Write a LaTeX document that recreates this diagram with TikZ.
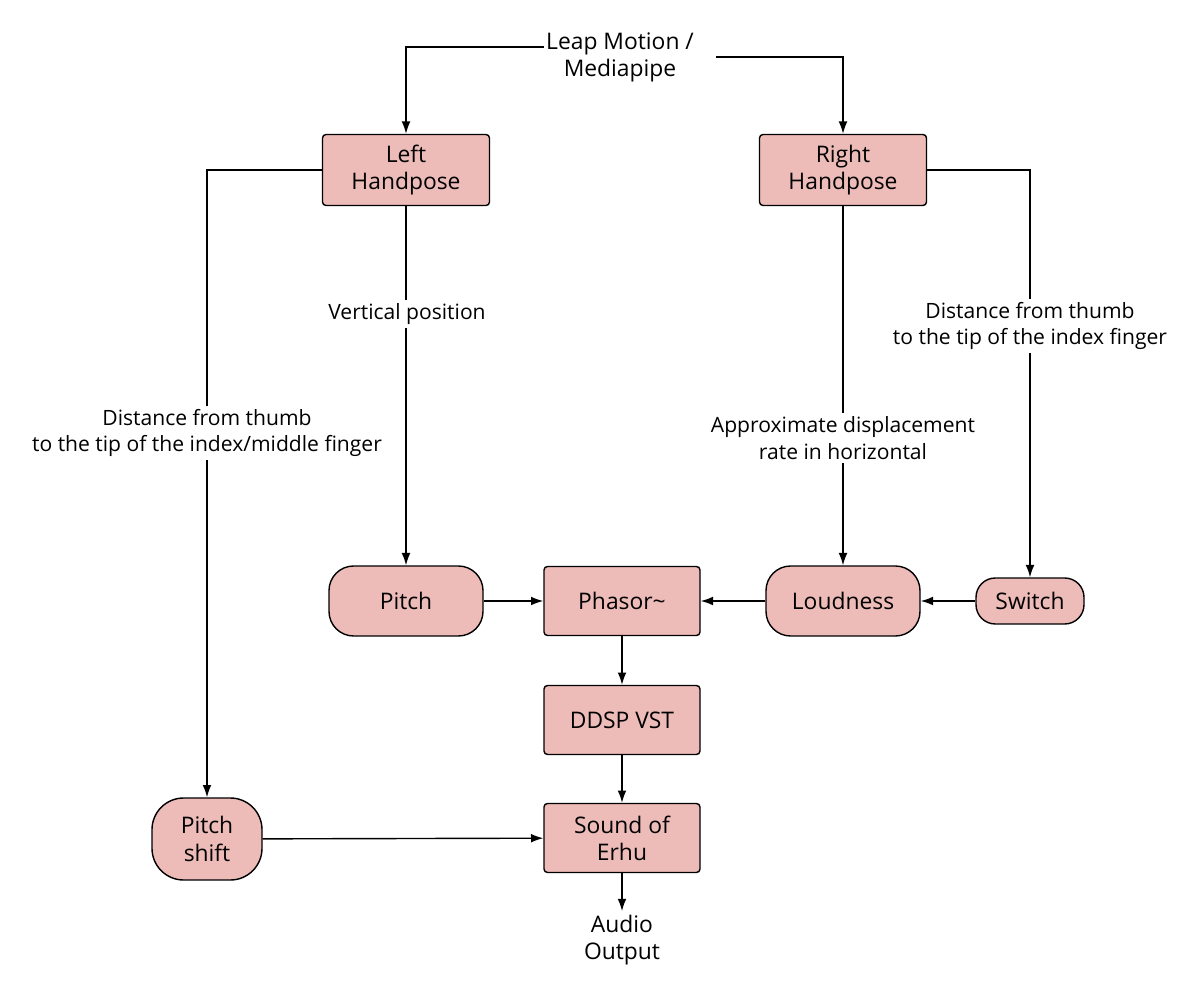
\documentclass[tikz,border=0pt]{standalone}
\usepackage{fontspec}
\setmainfont{Open Sans}
\usetikzlibrary{arrows.meta}
\usetikzlibrary{positioning}
\definecolor{boxpink}{HTML}{EDBCB8}
\tikzset{
  box/.style={rectangle,rounded corners=2pt,draw=black,thick,fill=boxpink,align=center,font=\fontsize{13}{15.5}\selectfont},
  rbox/.style={box,rounded corners=14pt},
  lbl/.style={fill=white,align=center,font=\fontsize{12}{15}\selectfont,inner sep=2pt},
  arr/.style={-{Latex[length=7pt,width=5pt]},thick}
}
\begin{document}
\begin{tikzpicture}[x=0.02cm,y=-0.02cm]
\useasboundingbox (0,0) rectangle (1200,996);
\node[lbl,font=\fontsize{13}{15.5}\selectfont](leap) at (620,57){Leap Motion /\\Mediapipe};
\coordinate (leapl) at (544,47);
\coordinate (leapr) at (716,57);
\node[box,minimum width=167*0.02cm,minimum height=71*0.02cm](left) at (406,170){Left\\Handpose};
\node[box,minimum width=167*0.02cm,minimum height=71*0.02cm](right) at (843,170){Right\\Handpose};
\node[rbox,minimum width=154*0.02cm,minimum height=70*0.02cm](pitch) at (406,601){Pitch};
\node[box,minimum width=156*0.02cm,minimum height=69*0.02cm](phasor) at (622,601){Phasor\textasciitilde};
\node[rbox,minimum width=154*0.02cm,minimum height=70*0.02cm](loud) at (843,601){Loudness};
\node[rbox,rounded corners=11pt,minimum width=108*0.02cm,minimum height=46*0.02cm](switch) at (1030,601){Switch};
\node[box,minimum width=156*0.02cm,minimum height=69*0.02cm](ddsp) at (622,720){DDSP VST};
\node[box,minimum width=156*0.02cm,minimum height=69*0.02cm](erhu) at (622,838){Sound of\\Erhu};
\node[rbox,rounded corners=18pt,minimum width=110*0.02cm,minimum height=82*0.02cm](shift) at (207,839){Pitch\\shift};
\node[lbl,font=\fontsize{13}{15.5}\selectfont](audio) at (622,940){Audio\\Output};
% top split
\draw[arr] (leapl) -| (left.north);
\draw[arr] (leapr) -| (right.north);
% left hand
\draw[arr] (left.west) -| (shift.north);
\node[lbl](lthumb) at (207,433){Distance from thumb\\to the tip of the index/middle finger};
\draw[arr] (left.south) -- (pitch.north);
\node[lbl](lvert) at (407,314){Vertical position};
% right hand
\draw[arr] (right.south) -- (loud.north);
\node[lbl](rdisp) at (843,438){Approximate displacement\\rate in horizontal};
\draw[arr] (right.east) -| (switch.north);
\node[lbl](rthumb) at (1030,326){Distance from thumb\\to the tip of the index finger};
% chain
\draw[arr] (pitch) -- (phasor);
\draw[arr] (loud) -- (phasor);
\draw[arr] (switch) -- (loud);
\draw[arr] (phasor) -- (ddsp);
\draw[arr] (ddsp) -- (erhu);
\draw[arr] (shift) -- (erhu);
\draw[arr] (erhu) -- (audio);
\end{tikzpicture}
\end{document}
